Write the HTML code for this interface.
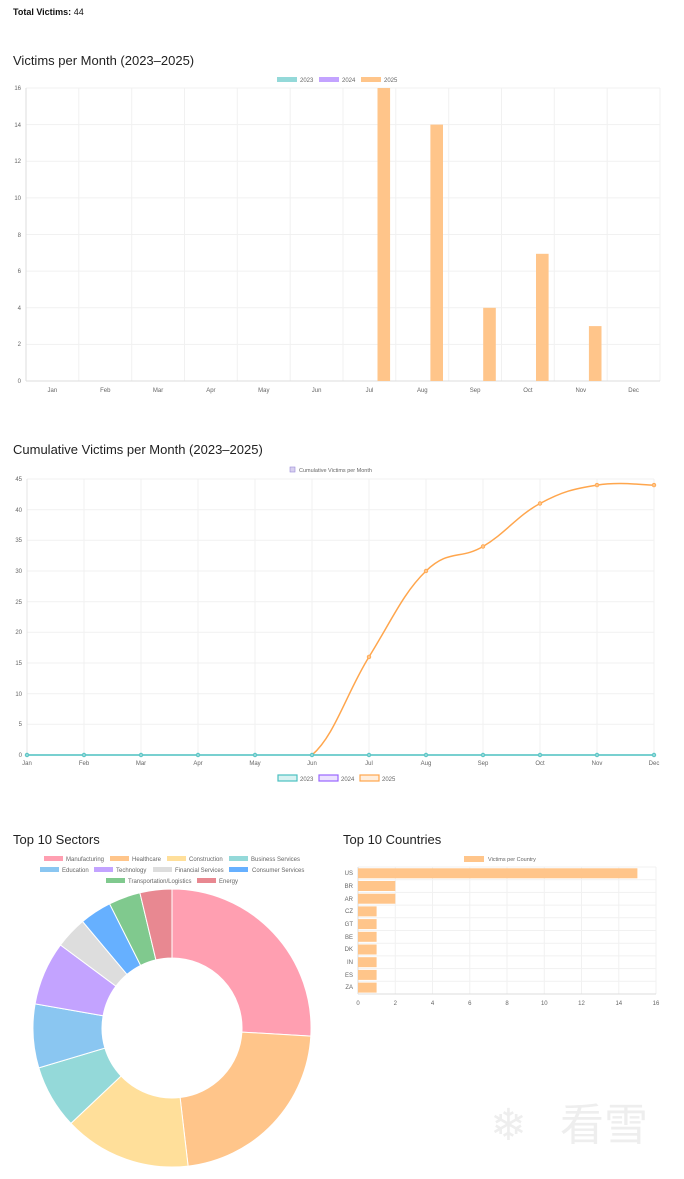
<!DOCTYPE html>
<html><head><meta charset="utf-8"><style>
body{margin:0;background:#fff;font-family:"Liberation Sans",sans-serif;}
svg{display:block}
</style></head><body>
<svg width="684" height="1179" xmlns="http://www.w3.org/2000/svg" font-family="Liberation Sans, sans-serif">
<text x="13" y="15" font-size="9" font-weight="bold" fill="#111">Total Victims: <tspan font-weight="normal">44</tspan></text>

<text x="13" y="65" font-size="13" fill="#222">Victims per Month (2023–2025)</text>
<g font-size="6" fill="#666">
<rect x="277" y="77" width="20" height="5" fill="#94d9d9"/><text x="300" y="82">2023</text>
<rect x="319" y="77" width="20" height="5" fill="#c3a3ff"/><text x="342" y="82">2024</text>
<rect x="361" y="77" width="20" height="5" fill="#ffc58a"/><text x="384" y="82">2025</text>
</g>
<g stroke="#f1f1f1" stroke-width="1">
<line x1="26" y1="88" x2="660" y2="88"/><line x1="26" y1="124.6" x2="660" y2="124.6"/><line x1="26" y1="161.3" x2="660" y2="161.3"/><line x1="26" y1="197.9" x2="660" y2="197.9"/><line x1="26" y1="234.5" x2="660" y2="234.5"/><line x1="26" y1="271.1" x2="660" y2="271.1"/><line x1="26" y1="307.8" x2="660" y2="307.8"/><line x1="26" y1="344.4" x2="660" y2="344.4"/>
<line x1="78.8" y1="88" x2="78.8" y2="381"/><line x1="131.7" y1="88" x2="131.7" y2="381"/><line x1="184.5" y1="88" x2="184.5" y2="381"/><line x1="237.3" y1="88" x2="237.3" y2="381"/><line x1="290.2" y1="88" x2="290.2" y2="381"/><line x1="343" y1="88" x2="343" y2="381"/><line x1="395.8" y1="88" x2="395.8" y2="381"/><line x1="448.7" y1="88" x2="448.7" y2="381"/><line x1="501.5" y1="88" x2="501.5" y2="381"/><line x1="554.3" y1="88" x2="554.3" y2="381"/><line x1="607.2" y1="88" x2="607.2" y2="381"/><line x1="660" y1="88" x2="660" y2="381"/>
</g>
<line x1="26" y1="88" x2="26" y2="381" stroke="#ddd"/><line x1="26" y1="381" x2="660" y2="381" stroke="#ddd"/>
<g font-size="6" fill="#666" text-anchor="end">
<text x="21" y="90">16</text><text x="21" y="127">14</text><text x="21" y="163">12</text><text x="21" y="200">10</text><text x="21" y="237">8</text><text x="21" y="273">6</text><text x="21" y="310">4</text><text x="21" y="346">2</text><text x="21" y="383">0</text>
</g>
<g font-size="6" fill="#666" text-anchor="middle">
<text x="52.4" y="392">Jan</text><text x="105.3" y="392">Feb</text><text x="158.1" y="392">Mar</text><text x="210.9" y="392">Apr</text><text x="263.8" y="392">May</text><text x="316.6" y="392">Jun</text><text x="369.4" y="392">Jul</text><text x="422.3" y="392">Aug</text><text x="475.1" y="392">Sep</text><text x="527.9" y="392">Oct</text><text x="580.8" y="392">Nov</text><text x="633.6" y="392">Dec</text>
</g>
<g fill="#ffc58a">
<rect x="377.5" y="88" width="12.6" height="293"/>
<rect x="430.4" y="124.6" width="12.6" height="256.4"/>
<rect x="483.2" y="307.8" width="12.6" height="73.2"/>
<rect x="536" y="253.8" width="12.6" height="127.2"/>
<rect x="588.9" y="326.1" width="12.6" height="54.9"/>
</g>

<text x="13" y="454" font-size="13" fill="#222">Cumulative Victims per Month (2023–2025)</text>
<rect x="290" y="467" width="5" height="5" fill="#d8d0f0" stroke="#9a8ad8" stroke-width="0.6"/>
<text x="299" y="472" font-size="5.5" fill="#666">Cumulative Victims per Month</text>
<g stroke="#f1f1f1">
<line x1="27" y1="479" x2="654" y2="479"/><line x1="27" y1="509.7" x2="654" y2="509.7"/><line x1="27" y1="540.3" x2="654" y2="540.3"/><line x1="27" y1="571" x2="654" y2="571"/><line x1="27" y1="601.7" x2="654" y2="601.7"/><line x1="27" y1="632.3" x2="654" y2="632.3"/><line x1="27" y1="663" x2="654" y2="663"/><line x1="27" y1="693.7" x2="654" y2="693.7"/><line x1="27" y1="724.3" x2="654" y2="724.3"/>
<line x1="84" y1="479" x2="84" y2="755"/><line x1="141" y1="479" x2="141" y2="755"/><line x1="198" y1="479" x2="198" y2="755"/><line x1="255" y1="479" x2="255" y2="755"/><line x1="312" y1="479" x2="312" y2="755"/><line x1="369" y1="479" x2="369" y2="755"/><line x1="426" y1="479" x2="426" y2="755"/><line x1="483" y1="479" x2="483" y2="755"/><line x1="540" y1="479" x2="540" y2="755"/><line x1="597" y1="479" x2="597" y2="755"/><line x1="654" y1="479" x2="654" y2="755"/>
</g>
<line x1="27" y1="479" x2="27" y2="755" stroke="#e4e4e4"/>
<g font-size="6" fill="#666" text-anchor="end">
<text x="22" y="481">45</text><text x="22" y="512">40</text><text x="22" y="542">35</text><text x="22" y="573">30</text><text x="22" y="604">25</text><text x="22" y="634">20</text><text x="22" y="665">15</text><text x="22" y="696">10</text><text x="22" y="726">5</text><text x="22" y="757">0</text>
</g>
<g font-size="6" fill="#666" text-anchor="middle">
<text x="27" y="765">Jan</text><text x="84" y="765">Feb</text><text x="141" y="765">Mar</text><text x="198" y="765">Apr</text><text x="255" y="765">May</text><text x="312" y="765">Jun</text><text x="369" y="765">Jul</text><text x="426" y="765">Aug</text><text x="483" y="765">Sep</text><text x="540" y="765">Oct</text><text x="597" y="765">Nov</text><text x="654" y="765">Dec</text>
</g>
<path d="M312,755 C334.8,735.4 346.2,693.7 369,656.9 C391.8,620.1 403.2,593.1 426,571 C448.8,548.9 460.2,560 483,546.5 C505.8,533 517.2,515.8 540,503.5 C562.8,491.2 574.2,488.8 597,485.1 C619.8,481.4 642.6,485.1 654,485.1" fill="none" stroke="#ffa64d" stroke-width="1.5"/>
<g fill="#ffc58a" stroke="#ffa64d" stroke-width="0.8">
<circle cx="369" cy="656.9" r="1.8"/><circle cx="426" cy="571" r="1.8"/><circle cx="483" cy="546.5" r="1.8"/><circle cx="540" cy="503.5" r="1.8"/><circle cx="597" cy="485.1" r="1.8"/><circle cx="654" cy="485.1" r="1.8"/>
</g>
<line x1="27" y1="755" x2="654" y2="755" stroke="#4bc0c0" stroke-width="1.5"/>
<g fill="#94d9d9" stroke="#4bc0c0" stroke-width="0.8">
<circle cx="27" cy="755" r="1.8"/><circle cx="84" cy="755" r="1.8"/><circle cx="141" cy="755" r="1.8"/><circle cx="198" cy="755" r="1.8"/><circle cx="255" cy="755" r="1.8"/><circle cx="312" cy="755" r="1.8"/><circle cx="369" cy="755" r="1.8"/><circle cx="426" cy="755" r="1.8"/><circle cx="483" cy="755" r="1.8"/><circle cx="540" cy="755" r="1.8"/><circle cx="597" cy="755" r="1.8"/><circle cx="654" cy="755" r="1.8"/>
</g>
<g font-size="6" fill="#666">
<rect x="278" y="775" width="19" height="6" fill="#d8f2f2" stroke="#4bc0c0" stroke-width="1.2"/><text x="300" y="781">2023</text>
<rect x="319" y="775" width="19" height="6" fill="#ece2ff" stroke="#9966ff" stroke-width="1.2"/><text x="341" y="781">2024</text>
<rect x="360" y="775" width="19" height="6" fill="#ffeedd" stroke="#ffa64d" stroke-width="1.2"/><text x="382" y="781">2025</text>
</g>

<text x="13" y="844" font-size="13" fill="#222">Top 10 Sectors</text>
<g font-size="6" fill="#666">
<rect x="44" y="856" width="19" height="5" fill="#ff9fb1"/><text x="66" y="861">Manufacturing</text>
<rect x="110" y="856" width="19" height="5" fill="#ffc58a"/><text x="132" y="861">Healthcare</text>
<rect x="167" y="856" width="19" height="5" fill="#ffdf9a"/><text x="189" y="861">Construction</text>
<rect x="229" y="856" width="19" height="5" fill="#94d9d9"/><text x="251" y="861">Business Services</text>
<rect x="40" y="867" width="19" height="5" fill="#8ac6f1"/><text x="62" y="872">Education</text>
<rect x="94" y="867" width="19" height="5" fill="#c3a3ff"/><text x="116" y="872">Technology</text>
<rect x="153" y="867" width="19" height="5" fill="#dddddd"/><text x="175" y="872">Financial Services</text>
<rect x="229" y="867" width="19" height="5" fill="#66b0ff"/><text x="252" y="872">Consumer Services</text>
<rect x="106" y="878" width="19" height="5" fill="#80c98e"/><text x="128" y="883">Transportation/Logistics</text>
<rect x="197" y="878" width="19" height="5" fill="#e88891"/><text x="219" y="883">Energy</text>
</g>
<g stroke="#fff" stroke-width="1">
<path d="M172,889 A139,139 0 0 1 310.8,1036.1 L241.9,1032.1 A70,70 0 0 0 172,958 Z" fill="#ff9fb1"/>
<path d="M310.8,1036.1 A139,139 0 0 1 188.1,1166.1 L180.1,1097.5 A70,70 0 0 0 241.9,1032.1 Z" fill="#ffc58a"/>
<path d="M188.1,1166.1 A139,139 0 0 1 70.9,1123.4 L121.1,1076 A70,70 0 0 0 180.1,1097.5 Z" fill="#ffdf9a"/>
<path d="M70.9,1123.4 A139,139 0 0 1 38.8,1067.9 L104.9,1048.1 A70,70 0 0 0 121.1,1076 Z" fill="#94d9d9"/>
<path d="M38.8,1067.9 A139,139 0 0 1 35.1,1003.9 L103.1,1015.8 A70,70 0 0 0 104.9,1048.1 Z" fill="#8ac6f1"/>
<path d="M35.1,1003.9 A139,139 0 0 1 60.5,945 L115.9,986.2 A70,70 0 0 0 103.1,1015.8 Z" fill="#c3a3ff"/>
<path d="M60.5,945 A139,139 0 0 1 82.6,921.5 L127,974.4 A70,70 0 0 0 115.9,986.2 Z" fill="#dddddd"/>
<path d="M82.6,921.5 A139,139 0 0 1 109.6,903.8 L140.6,965.4 A70,70 0 0 0 127,974.4 Z" fill="#66b0ff"/>
<path d="M109.6,903.8 A139,139 0 0 1 139.9,892.8 L155.9,959.9 A70,70 0 0 0 140.6,965.4 Z" fill="#80c98e"/>
<path d="M139.9,892.8 A139,139 0 0 1 172,889 L172,958 A70,70 0 0 0 155.9,959.9 Z" fill="#e88891"/>
</g>

<text x="343" y="844" font-size="13" fill="#222">Top 10 Countries</text>
<rect x="464" y="856" width="20" height="6" fill="#ffc58a"/><text x="488" y="861" font-size="5.5" fill="#666">Victims per Country</text>
<g stroke="#f1f1f1">
<line x1="358" y1="867" x2="656" y2="867"/><line x1="358" y1="879.7" x2="656" y2="879.7"/><line x1="358" y1="892.4" x2="656" y2="892.4"/><line x1="358" y1="905.1" x2="656" y2="905.1"/><line x1="358" y1="917.8" x2="656" y2="917.8"/><line x1="358" y1="930.5" x2="656" y2="930.5"/><line x1="358" y1="943.2" x2="656" y2="943.2"/><line x1="358" y1="955.9" x2="656" y2="955.9"/><line x1="358" y1="968.6" x2="656" y2="968.6"/><line x1="358" y1="981.3" x2="656" y2="981.3"/>
<line x1="395.3" y1="867" x2="395.3" y2="994"/><line x1="432.5" y1="867" x2="432.5" y2="994"/><line x1="469.8" y1="867" x2="469.8" y2="994"/><line x1="507" y1="867" x2="507" y2="994"/><line x1="544.3" y1="867" x2="544.3" y2="994"/><line x1="581.5" y1="867" x2="581.5" y2="994"/><line x1="618.8" y1="867" x2="618.8" y2="994"/><line x1="656" y1="867" x2="656" y2="994"/>
</g>
<line x1="358" y1="867" x2="358" y2="994" stroke="#ddd"/><line x1="358" y1="994" x2="656" y2="994" stroke="#ddd"/>
<g fill="#ffc58a">
<rect x="358" y="868.3" width="279.4" height="10"/>
<rect x="358" y="881" width="37.3" height="10"/>
<rect x="358" y="893.7" width="37.3" height="10"/>
<rect x="358" y="906.4" width="18.6" height="10"/>
<rect x="358" y="919.1" width="18.6" height="10"/>
<rect x="358" y="931.8" width="18.6" height="10"/>
<rect x="358" y="944.5" width="18.6" height="10"/>
<rect x="358" y="957.2" width="18.6" height="10"/>
<rect x="358" y="969.9" width="18.6" height="10"/>
<rect x="358" y="982.6" width="18.6" height="10"/>
</g>
<g font-size="6" fill="#666" text-anchor="end">
<text x="353" y="875">US</text><text x="353" y="888">BR</text><text x="353" y="901">AR</text><text x="353" y="913">CZ</text><text x="353" y="926">GT</text><text x="353" y="939">BE</text><text x="353" y="951">DK</text><text x="353" y="964">IN</text><text x="353" y="977">ES</text><text x="353" y="989">ZA</text>
</g>
<g font-size="6" fill="#666" text-anchor="middle">
<text x="358" y="1005">0</text><text x="395.3" y="1005">2</text><text x="432.5" y="1005">4</text><text x="469.8" y="1005">6</text><text x="507" y="1005">8</text><text x="544.3" y="1005">10</text><text x="581.5" y="1005">12</text><text x="618.8" y="1005">14</text><text x="656" y="1005">16</text>
</g>
<text x="560" y="1140" font-size="44" fill="#eeeeee" font-family="Noto Sans CJK SC, sans-serif">看雪</text>
<text x="490" y="1140" font-size="44" fill="#eeeeee">❄</text>
</svg>
</body></html>
